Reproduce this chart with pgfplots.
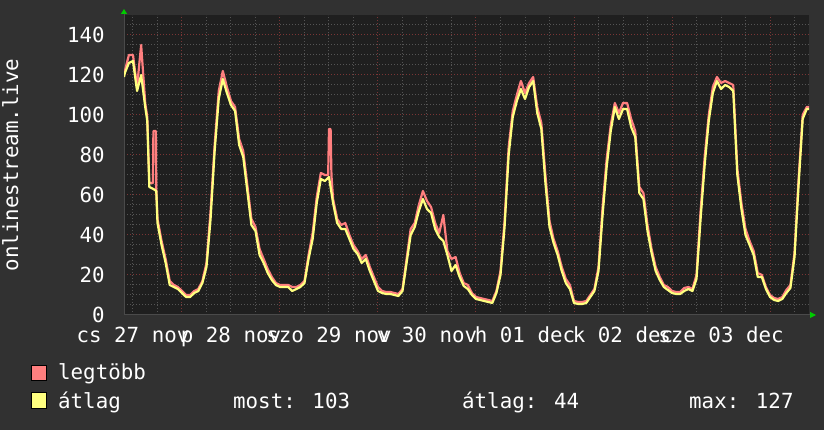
\documentclass[border=0pt]{standalone}
\usepackage{fontspec}
\setmainfont{DejaVu Sans Mono}
\setmonofont{DejaVu Sans Mono}
\usepackage{pgfplots}
\usepackage{pgfplotstable}
\pgfplotsset{compat=1.18}
\usetikzlibrary{arrows.meta}
\definecolor{outerbg}{HTML}{313131}
\definecolor{canvas}{HTML}{1F1F1F}
\definecolor{mgrid}{HTML}{7A3535}
\definecolor{mingrid}{HTML}{545454}
\definecolor{maxc}{HTML}{FF7F7F}
\definecolor{avgc}{HTML}{FFFF7F}
\definecolor{axisc}{HTML}{4A4A4A}
\definecolor{arrowc}{HTML}{00CC00}
\newcommand\rrdfont{\fontsize{20.8bp}{25bp}\selectfont}

% hours since 27 nov 00:00
\pgfplotstableread{
h v
9.8 120
10 122
11 130
12 130
13 114
14 135
15 106
15.5 99
16 66
16.9 66
17 92
17.6 92
17.7 64
18 48
19 37
20 28
21 17
22 15
23 14
24 12
25 10
26 10
27 12
28 13
29 17
30 26
31 52
32 85
33 112
34 122
35 114
36 107
37 104
38 88
39 82
40 65
41 48
42 44
43 33
44 28
45 23
46 19
47 16
48 15
49 15
50 15
51 14
52 14
53 15
54 17
55 30
56 41
57 59
58 71
59 70
59.8 70
60 93
60.4 93
60.6 70
61 58
62 48
63 45
64 46
65 40
66 35
67 32
68 28
69 30
70 24
71 19
72 14
73 12
74 11.5
75 11.5
76 11
77 10.5
78 13
79 28
80 43
81 46
82 55
83 62
84 57
85 54
86 46
87 41
88 50
89 32
90 28
91 29
92 21
93 16
94 15
95 11
96 9
97 8.5
98 8
99 7.5
100 7
101 12
102 22
103 47
104 84
105 102
106 110
107 117
108 111
109 116
110 119
111 104
112 96
113 70
114 47
115 38
116 32
117 24
118 18
119 15
120 7
121 6.5
122 6.5
123 7
124 10
125 13
126 24
127 54
128 78
129 95
130 106
131 101
132 106
133 106
134 98
135 92
136 64
137 61
138 45
139 33
140 24
141 19
142 15
143 14
144 12
145 11.5
146 11.5
147 13.5
148 14
149 13
150 20
151 52
152 79
153 100
154 114
155 119
156 116
157 117
158 116
159 115
160 73
161 56
162 43
163 37
164 32
165 21
166 20
167 14
168 10
169 8.5
170 8
171 9
172 12.5
173 15
174 31
175 68
176 100
177 104
177.6 104
}\maxdata

\pgfplotstableread{
h v
9.8 119
10 121
11 126
12 127
13 112
14 120
15 104
15.5 97
16 64
17 63
17.7 62
18 46
19 35
20 26
21 15
22 14
23 13
24 11
25 9
26 9
27 11
28 12
29 16
30 24
31 48
32 82
33 108
34 118
35 111
36 105
37 102
38 85
39 79
40 62
41 45
42 42
43 30
44 26
45 21
46 17.5
47 15
48 14
49 14
50 14
51 12
52 13
53 14
54 16
55 28
56 38
57 56
58 68
59 67
60 69
61 56
62 46
63 43
64 43
65 38
66 33
67 30.5
68 26
69 28
70 22
71 17
72 12
73 11
74 10.5
75 10.5
76 10
77 9.5
78 12
79 26
80 40
81 44
82 52
83 58
84 53
85 51
86 43
87 39
88 37
89 30
90 22
91 25
92 19
93 14.5
94 13
95 10
96 8
97 7.5
98 7
99 6.5
100 6
101 11
102 20
103 44
104 80
105 99
106 107
107 113
108 108
109 114
110 117
111 101
112 93
113 66
114 44
115 36
116 30
117 22
118 16
119 13
120 6
121 5.5
122 5.5
123 6
124 9
125 12
126 22
127 50
128 74
129 92
130 104
131 98
132 103
133 103
134 94
135 89
136 61
137 58
138 42
139 31
140 22
141 17.5
142 14
143 12.5
144 11
145 10.5
146 10.5
147 12
148 13
149 12
150 18
151 48
152 75
153 97
154 111
155 117
156 113
157 115
158 114
159 112
160 70
161 53
162 40
163 35
164 30
165 19
166 19
167 13
168 9
169 7.5
170 7
171 8
172 11
173 13.5
174 29
175 65
176 98
177 103
177.6 103
}\avgdata

\begin{document}
\begin{tikzpicture}
\fill[outerbg] (0,0) rectangle (824bp,430bp);
\begin{axis}[
  at={(124bp,115bp)}, anchor=south west,
  scale only axis, width=685bp, height=300bp,
  xmin=9.8, xmax=177.55, ymin=0, ymax=150,
  axis background/.style={fill=canvas},
  axis lines=left,
  axis line style={draw=axisc, line width=1bp},
  x axis line style={-{Triangle[color=arrowc,length=6bp,width=6bp]}, shorten >=-7bp},
  y axis line style={-{Triangle[color=arrowc,length=5bp,width=6bp]}, shorten >=-6bp},
  xtick={24,48,72,96,120,144,168},
  xticklabels={},
  minor xtick={12,18,30,36,42,54,60,66,78,84,90,102,108,114,126,132,138,150,156,162,174},
  extra x ticks={12,36,60,84,108,132,156},
  extra x tick labels={cs 27 nov,p 28 nov,szo 29 nov,v 30 nov,h 01 dec,k 02 dec,sze 03 dec},
  extra x tick style={grid=none},
  ytick={0,20,40,60,80,100,120,140},
  minor ytick={5,10,15,25,30,35,45,50,55,65,70,75,85,90,95,105,110,115,125,130,135,145},
  grid=both,
  major grid style={draw=mgrid, dash pattern=on 1bp off 2bp, line width=1bp},
  minor grid style={draw=mingrid, dash pattern=on 1bp off 2bp, line width=1bp},
  tick style={draw=none},
  tick label style={font=\rrdfont, text=white},
  /pgf/number format/assume math mode=true,
  yticklabel style={anchor=east, inner sep=0pt, xshift=-17bp},
  xticklabel style={anchor=base, inner sep=0pt, yshift=-25bp},
  ylabel={onlinestream.live},
  ylabel style={at={(axis description cs:-0.1547,0.5)}, anchor=base, inner sep=0pt, font=\rrdfont, text=white},
]
\addplot[maxc, line width=2.2bp, line join=round] table[x=h, y=v] {\maxdata};
\addplot[avgc, line width=2.2bp, line join=round] table[x=h, y=v] {\avgdata};
\end{axis}
\filldraw[fill=maxc, draw=black, line width=1bp] (31.5bp,49bp) rectangle (46bp,64bp);
\filldraw[fill=avgc, draw=black, line width=1bp] (31.5bp,21bp) rectangle (46bp,37bp);
\begin{scope}[every node/.style={anchor=base west, inner sep=0pt, text=white, font=\rrdfont}]
\node at (58bp,50.5bp) {legtöbb};
\node at (58bp,22bp) {átlag};
\node at (233bp,22bp) {most: 103};
\node at (462bp,22bp) {átlag: 44};
\node at (689bp,22bp) {max: 127};
\end{scope}
\end{tikzpicture}
\end{document}
